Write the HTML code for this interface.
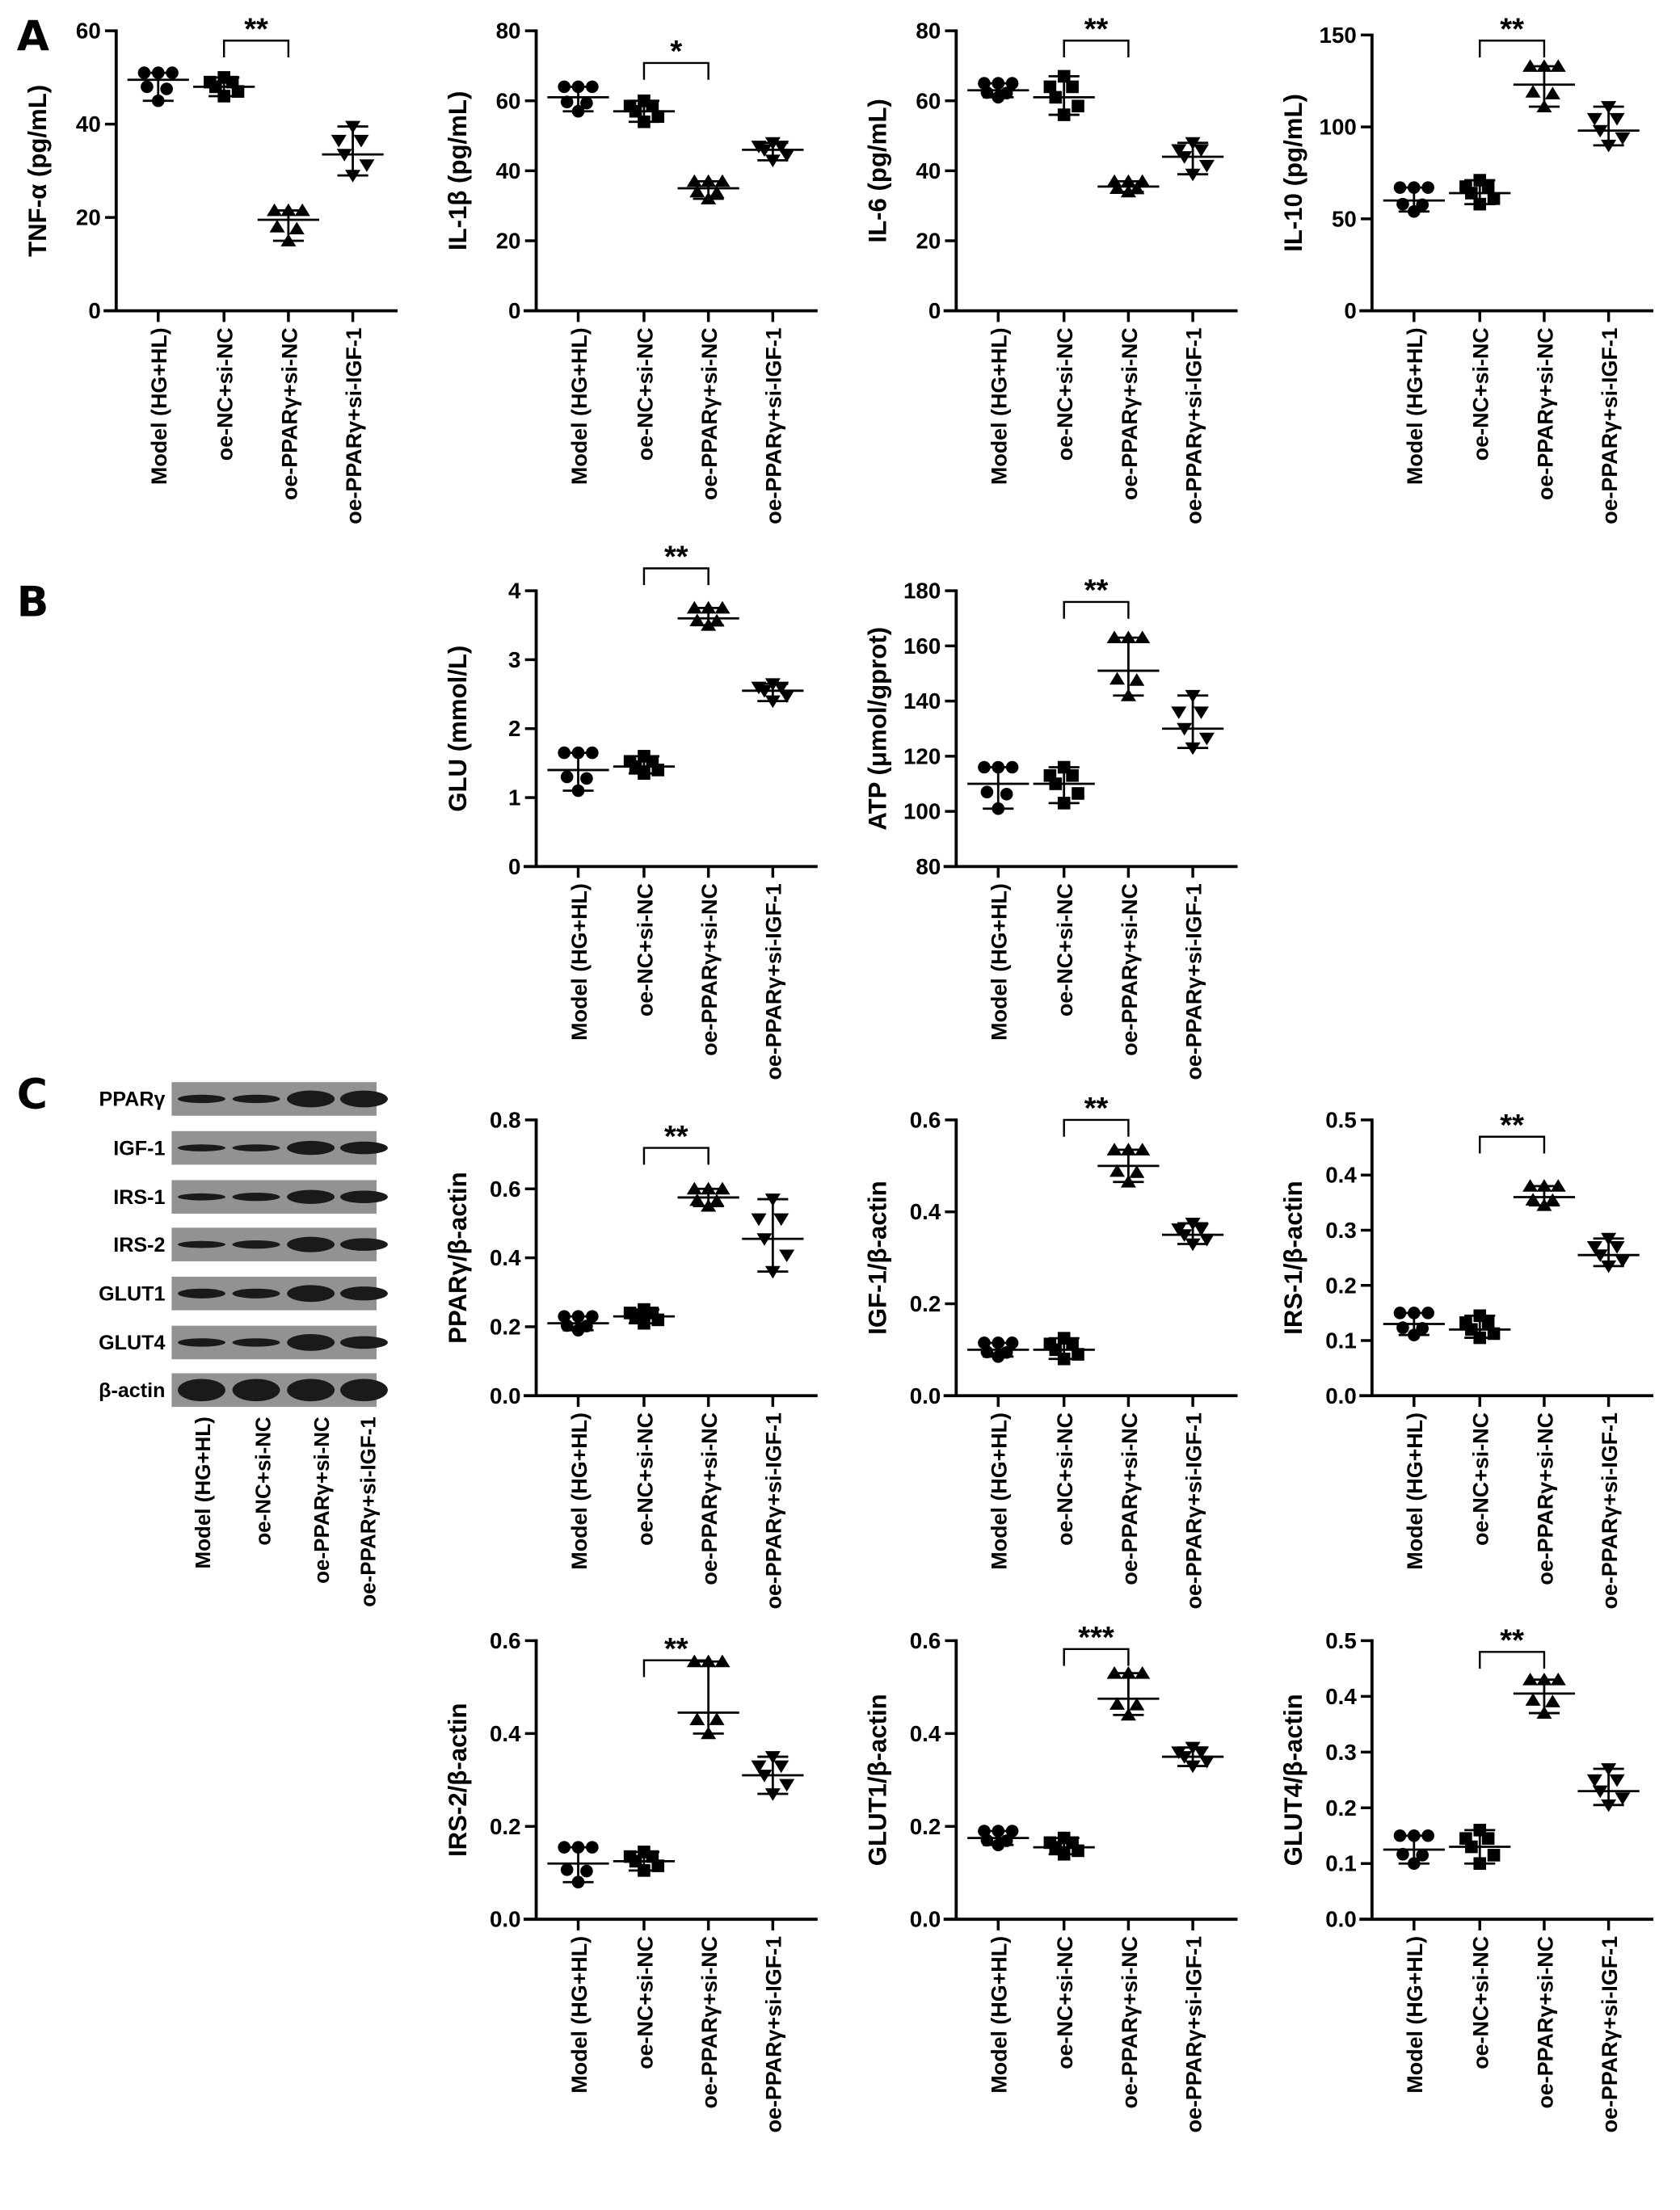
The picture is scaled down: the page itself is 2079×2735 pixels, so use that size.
<!DOCTYPE html>
<html><head><meta charset="utf-8"><style>html,body{margin:0;padding:0;background:#fff}svg{display:block}</style></head>
<body>
<svg id="s" xmlns="http://www.w3.org/2000/svg" width="2079" height="2735" viewBox="0 0 1200 1578.7" preserveAspectRatio="none" font-family="Liberation Sans, Arial, sans-serif" font-weight="bold">
<rect width="1200" height="1578.7" fill="#fff"/>
<text x="12" y="36" font-size="30" font-family="DejaVu Sans, sans-serif">A</text>
<text x="12" y="440" font-size="30" font-family="DejaVu Sans, sans-serif">B</text>
<text x="12" y="792" font-size="30" font-family="DejaVu Sans, sans-serif">C</text>
</svg>
<script>
const S=document.getElementById('s');const NS='http://www.w3.org/2000/svg';
function el(t,a,txt){const e=document.createElementNS(NS,t);for(const k in a)e.setAttribute(k,a[k]);if(txt!==undefined)e.textContent=txt;S.appendChild(e);return e;}
const cats=['Model (HG+HL)','oe-NC+si-NC','oe-PPARγ+si-NC','oe-PPARγ+si-IGF-1'];
function panel(p){
 const ax=p.x,bot=p.bot,top=p.top,[y0,y1]=p.lim;
 const Y=v=>bot-(v-y0)/(y1-y0)*(bot-top);
 const cx=[ax+30,ax+77,ax+123,ax+169];
 el('line',{x1:ax,y1:top-1,x2:ax,y2:bot,stroke:'#000','stroke-width':2.2});
 el('line',{x1:ax-9,y1:bot,x2:ax+201,y2:bot,stroke:'#000','stroke-width':2.2});
 p.ticks.forEach(t=>{const y=Y(t);el('line',{x1:ax-8,y1:y,x2:ax,y2:y,stroke:'#000','stroke-width':2});
  el('text',{x:ax-11,y:y+5.5,'font-size':16,'text-anchor':'end'},p.fmt?p.fmt(t):String(t));});
 el('text',{x:0,y:0,'font-size':18,'text-anchor':'middle',transform:`translate(${ax-50},${(top+bot)/2}) rotate(-90)`},p.title);
 cx.forEach((c,i)=>{el('line',{x1:c,y1:bot,x2:c,y2:bot+8,stroke:'#000','stroke-width':2});
  el('text',{x:0,y:0,'font-size':15.5,'text-anchor':'end',transform:`translate(${c+6},${bot+12}) rotate(-90)`},cats[i]);
  const [m,lo,hi]=p.d[i];
  el('line',{x1:c-22,y1:Y(m),x2:c+22,y2:Y(m),stroke:'#000','stroke-width':1.6});
  el('line',{x1:c,y1:Y(lo),x2:c,y2:Y(hi),stroke:'#000','stroke-width':1.6});
  el('line',{x1:c-11,y1:Y(lo),x2:c+11,y2:Y(lo),stroke:'#000','stroke-width':1.6});
  el('line',{x1:c-11,y1:Y(hi),x2:c+11,y2:Y(hi),stroke:'#000','stroke-width':1.6});
  const offs=[[-10,hi],[0,hi],[10,hi],[-8,(m*2+lo)/3],[6,(m+lo)/2+ (hi-lo)*0.05],[0,lo]];
  const offs2=[[-10,(m+hi)/2],[6,(m+hi)/2],[0,hi],[-6,m],[10,(m+lo)/2],[0,lo]];
  const o=i%2?offs2:offs;
  o.forEach(([dx,v])=>{const x=c+dx,y=Y(v);
   if(i==0)el('circle',{cx:x,cy:y,r:4.5,fill:'#000'});
   else if(i==1)el('rect',{x:x-4.5,y:y-4.5,width:9,height:9,fill:'#000'});
   else if(i==2)el('polygon',{points:`${x},${y-5} ${x-5.5},${y+4} ${x+5.5},${y+4}`,fill:'#000'});
   else el('polygon',{points:`${x},${y+5} ${x-5.5},${y-4} ${x+5.5},${y-4}`,fill:'#000'});});
 });
 const by=p.by;
 el('polyline',{points:`${cx[1]},${by+12} ${cx[1]},${by} ${cx[2]},${by} ${cx[2]},${by+12}`,fill:'none',stroke:'#000','stroke-width':1.4});
 el('text',{x:(cx[1]+cx[2])/2,y:by-1,'font-size':22,'text-anchor':'middle'},p.star);
}
const f1=t=>t.toFixed(1);
const A=(x,title,lim,ticks,d,by,star,top=22,bot=222,fmt)=>panel({x,title,lim,ticks,d,by,star,top,bot,fmt});
A(83,'TNF-α (pg/mL)',[0,60],[0,20,40,60],[[49.5,45,51],[48,46,50],[19.5,15,21.5],[33.5,29,39.5]],29,'**');
A(383,'IL-1β (pg/mL)',[0,80],[0,20,40,60,80],[[61,57,64],[57,54,60],[35,32,37],[46,43,48]],45,'*');
A(683,'IL-6 (pg/mL)',[0,80],[0,20,40,60,80],[[63,61,65],[61,56,67],[35.5,34,37],[44,39,48]],29,'**');
A(980,'IL-10 (pg/mL)',[0,150],[0,50,100,150],[[60,54,67],[64,58,71],[123,111,133],[98,90,111]],29,'**',25);
A(383,'GLU (mmol/L)',[0,4],[0,1,2,3,4],[[1.4,1.1,1.65],[1.45,1.35,1.6],[3.6,3.5,3.75],[2.55,2.4,2.65]],406,'**',422,619);
A(683,'ATP (μmol/gprot)',[80,180],[80,100,120,140,160,180],[[110,101,116],[110,103,116],[151,142,163],[130,123,142]],430,'**',422,619);
A(383,'PPARγ/β-actin',[0,0.8],[0,0.2,0.4,0.6,0.8],[[0.21,0.19,0.23],[0.23,0.21,0.25],[0.575,0.55,0.6],[0.455,0.36,0.57]],820,'**',800,997,f1);
A(683,'IGF-1/β-actin',[0,0.6],[0,0.2,0.4,0.6],[[0.1,0.085,0.115],[0.1,0.08,0.125],[0.5,0.465,0.535],[0.35,0.33,0.375]],800,'**',800,997,f1);
A(980,'IRS-1/β-actin',[0,0.5],[0,0.1,0.2,0.3,0.4,0.5],[[0.13,0.11,0.15],[0.12,0.105,0.145],[0.36,0.345,0.38],[0.255,0.235,0.285]],812,'**',800,997,f1);
A(383,'IRS-2/β-actin',[0,0.6],[0,0.2,0.4,0.6],[[0.12,0.08,0.155],[0.125,0.105,0.145],[0.445,0.4,0.555],[0.31,0.27,0.35]],1186,'**',1172,1371,f1);
A(683,'GLUT1/β-actin',[0,0.6],[0,0.2,0.4,0.6],[[0.175,0.16,0.19],[0.155,0.14,0.175],[0.475,0.44,0.53],[0.35,0.33,0.37]],1178,'***',1172,1371,f1);
A(980,'GLUT4/β-actin',[0,0.5],[0,0.1,0.2,0.3,0.4,0.5],[[0.125,0.1,0.15],[0.13,0.1,0.16],[0.405,0.37,0.43],[0.23,0.205,0.27]],1180,'**',1172,1371,f1);
const rows=[['PPARγ',773,[3,3,6,6]],['IGF-1',808,[2.5,2.5,5,4.5]],['IRS-1',843,[2.5,3,5,4.5]],['IRS-2',877,[2.5,3,5.5,4.5]],['GLUT1',912,[3.5,3.5,6,5]],['GLUT4',947,[3,3,6,4.5]],['β-actin',981,[8,8,8,8]]];
const lanes=[144,183,222,260];
rows.forEach(([n,y,w])=>{el('rect',{x:122.6,y:y,width:146.4,height:24,fill:'#929292'});
 el('text',{x:118,y:y+17,'font-size':14.5,'text-anchor':'end'},n);
 lanes.forEach((c,i)=>el('ellipse',{cx:c,cy:y+12,rx:17,ry:w[i],fill:'#1a1a1a'}));});
[150,193,235,268].forEach((c,i)=>el('text',{x:0,y:0,'font-size':15,'text-anchor':'end',transform:`translate(${c},${1012}) rotate(-90)`},cats[i]));
</script>
</body></html>
